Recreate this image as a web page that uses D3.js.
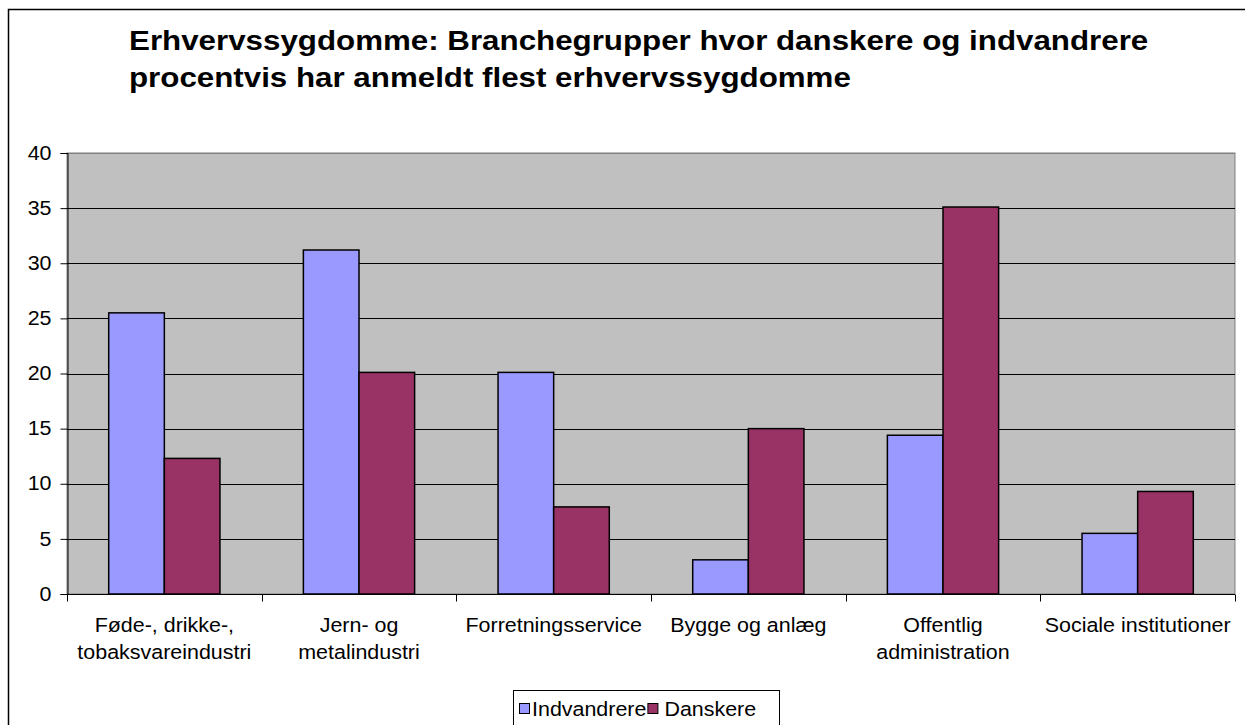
<!DOCTYPE html>
<html>
<head>
<meta charset="utf-8">
<script src="https://cdn.jsdelivr.net/npm/d3@7"></script>
<style>
  html, body { margin: 0; padding: 0; background: #fff; }
  svg { display: block; }
  text { font-family: Arial, "Liberation Sans", sans-serif; fill: #000; }
</style>
</head>
<body>
<svg id="chart" width="1245" height="725"></svg>
<script>
// ---- data ----
const categories = [
  "Føde-, drikke-, tobaksvareindustri",
  "Jern- og metalindustri",
  "Forretningsservice",
  "Bygge og anlæg",
  "Offentlig administration",
  "Sociale institutioner"
];
const categoryLines = [
  ["Føde-, drikke-,", "tobaksvareindustri"],
  ["Jern- og", "metalindustri"],
  ["Forretningsservice"],
  ["Bygge og anlæg"],
  ["Offentlig", "administration"],
  ["Sociale institutioner"]
];
const seriesNames = ["Indvandrere", "Danskere"];
const indvandrere = [25.5, 31.2, 20.1, 3.1, 14.4, 5.5];
const danskere = [12.3, 20.1, 7.9, 15.0, 35.1, 9.3];
const yTicks = [0, 5, 10, 15, 20, 25, 30, 35, 40];
const titleLines = [
  "Erhvervssygdomme: Branchegrupper hvor danskere og indvandrere",
  "procentvis har anmeldt flest erhvervssygdomme"
];

// ---- layout ----
const colors = ["#9999FF", "#993366"];
const SX = 1.1;   // horizontal text stretch of the reference
const TSX = 1.16; // title stretch
const FS = 19.5;
const plot = { left: 67, right: 1235, top: 153, bottom: 594 };

const svg = d3.select("#chart");

function stretchedText(g, x, y, str, size, anchor, weight, sx) {
  return g.append("text")
    .attr("transform", `translate(${x},${y}) scale(${sx || SX},1)`)
    .attr("text-anchor", anchor || "start")
    .style("font-size", size + "px")
    .style("font-weight", weight || "normal")
    .text(str);
}

// outer border
svg.append("rect")
  .attr("x", 8.5).attr("y", 9.5)
  .attr("width", 1300).attr("height", 800)
  .attr("fill", "#fff").attr("stroke", "#000").attr("stroke-width", 1.5);

// title
titleLines.forEach((t, i) => {
  stretchedText(svg, 129, 50 + i * 37, t, 27, "start", "bold", TSX);
});

// scales
const x0 = d3.scaleBand().domain(categories).range([plot.left, plot.right]).paddingInner(0).paddingOuter(0);
const barW = x0.bandwidth() / 3.5;
const x1 = d3.scaleBand().domain(seriesNames).range([0, barW * 2]);
const y = d3.scaleLinear().domain([0, 40]).range([plot.bottom, plot.top]);

// plot background
svg.append("rect")
  .attr("x", plot.left).attr("y", plot.top)
  .attr("width", plot.right - plot.left).attr("height", plot.bottom - plot.top)
  .attr("fill", "#C0C0C0").attr("stroke", "#808080").attr("stroke-width", 1);

// gridlines
svg.append("g").selectAll("line").data(yTicks.filter(d => d > 0)).join("line")
  .attr("x1", plot.left).attr("x2", plot.right)
  .attr("y1", d => Math.round(y(d)) + 0.5).attr("y2", d => Math.round(y(d)) + 0.5)
  .attr("stroke", d => d === 40 ? "#808080" : "#000").attr("stroke-width", 1);

// bars
const data = categories.map((c, i) => ({ c, vals: [indvandrere[i], danskere[i]] }));
const groups = svg.append("g").selectAll("g").data(data).join("g")
  .attr("transform", d => `translate(${x0(d.c) + (x0.bandwidth() - barW * 2) / 2},0)`);
groups.selectAll("rect").data(d => d.vals.map((v, j) => ({ v, s: seriesNames[j], j }))).join("rect")
  .attr("x", d => x1(d.s))
  .attr("y", d => y(d.v))
  .attr("width", x1.bandwidth())
  .attr("height", d => y(0) - y(d.v))
  .attr("fill", d => colors[d.j])
  .attr("stroke", "#000").attr("stroke-width", 1.5);

// y axis
const yAxis = d3.axisLeft(y).tickValues(yTicks).tickSize(7).tickPadding(9).tickFormat(d3.format("d"));
const ya = svg.append("g").attr("transform", `translate(${plot.left + 0.5},0)`).call(yAxis);
ya.select(".domain").attr("stroke", "#000");
ya.selectAll(".tick line").attr("stroke", "#000");
ya.selectAll(".tick text").each(function(d) {
  const t = d3.select(this);
  t.attr("transform", `scale(${SX},1)`).attr("x", -16 / SX)
    .style("font-size", FS + "px").style("font-family", "Arial, 'Liberation Sans', sans-serif").attr("fill", "#000");
});

// x axis: ticks at category boundaries
const xa = svg.append("g").attr("transform", `translate(0,${plot.bottom + 0.5})`);
xa.append("line").attr("x1", plot.left).attr("x2", plot.right).attr("stroke", "#000");
const bounds = categories.map(c => x0(c)).concat([plot.right]);
xa.selectAll("line.tk").data(bounds).join("line").attr("class", "tk")
  .attr("x1", d => Math.round(d) + 0.5).attr("x2", d => Math.round(d) + 0.5)
  .attr("y1", 0).attr("y2", 7).attr("stroke", "#000");

// category labels
categories.forEach((c, i) => {
  const cx = x0(c) + x0.bandwidth() / 2;
  categoryLines[i].forEach((line, k) => {
    stretchedText(svg, cx, 632 + k * 27, line, FS, "middle");
  });
});

// legend
const lg = svg.append("g");
lg.append("rect").attr("x", 513.5).attr("y", 690.5).attr("width", 266).attr("height", 60)
  .attr("fill", "#fff").attr("stroke", "#000").attr("stroke-width", 1);
let lx = 519;
seriesNames.forEach((s, j) => {
  lg.append("rect").attr("x", lx + 0.5).attr("y", 703.5).attr("width", 10).attr("height", 10)
    .attr("fill", colors[j]).attr("stroke", "#000").attr("stroke-width", 1);
  const t = stretchedText(lg, lx + 13 + (j > 0 ? 4 : 0), 716, s, FS, "start");
  lx += 13 + t.node().getComputedTextLength() * SX + 1;
});
</script>
</body>
</html>
